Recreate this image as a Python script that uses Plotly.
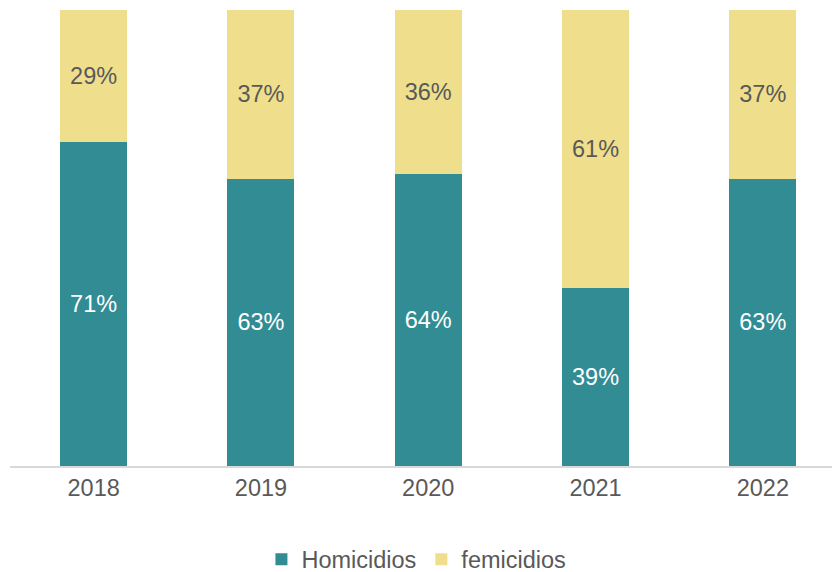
import plotly.graph_objects as go

years = ["2018", "2019", "2020", "2021", "2022"]
homicidios = [71, 63, 64, 39, 63]
femicidios = [29, 37, 36, 61, 37]

TEAL = "#318c94"
YELLOW = "#efdf8c"
GREY = "#595959"
FONT = "Liberation Sans, Arial, Helvetica, sans-serif"

fig = go.Figure()
fig.add_trace(go.Bar(
    x=years, y=homicidios, name="Homicidios",
    marker=dict(color=TEAL, line=dict(width=0)),
    text=[f"{v}%" for v in homicidios], textposition="inside",
    insidetextanchor="middle",
    textfont=dict(color="white", size=23.5, family=FONT),
))
fig.add_trace(go.Bar(
    x=years, y=femicidios, name="femicidios",
    marker=dict(color=YELLOW, line=dict(width=0)),
    text=[f"{v}%" for v in femicidios], textposition="inside",
    insidetextanchor="middle",
    textfont=dict(color=GREY, size=23.5, family=FONT),
))

# the page body adds an 8px offset, so margins are trimmed to compensate
fig.update_layout(
    barmode="stack",
    bargap=0.6,
    width=840,
    height=590,
    margin=dict(l=2, r=0, t=2, b=132),
    plot_bgcolor="white",
    paper_bgcolor="white",
    font=dict(family=FONT, color=GREY, size=23.5),
    uniformtext=dict(mode="show", minsize=10),
    showlegend=True,
    legend=dict(
        orientation="h", x=0.485, xanchor="center", y=-0.205, yanchor="middle",
        font=dict(size=23.5, color=GREY), itemsizing="constant",
        traceorder="normal",
    ),
)
fig.update_xaxes(
    range=[-0.5, 4.509], showline=True, linecolor="#d9d9d9", linewidth=2,
    ticks="", tickfont=dict(size=23.5, color=GREY), showgrid=False,
)
fig.update_yaxes(range=[0, 100], visible=False, showgrid=False)

fig.write_html("out.html")
